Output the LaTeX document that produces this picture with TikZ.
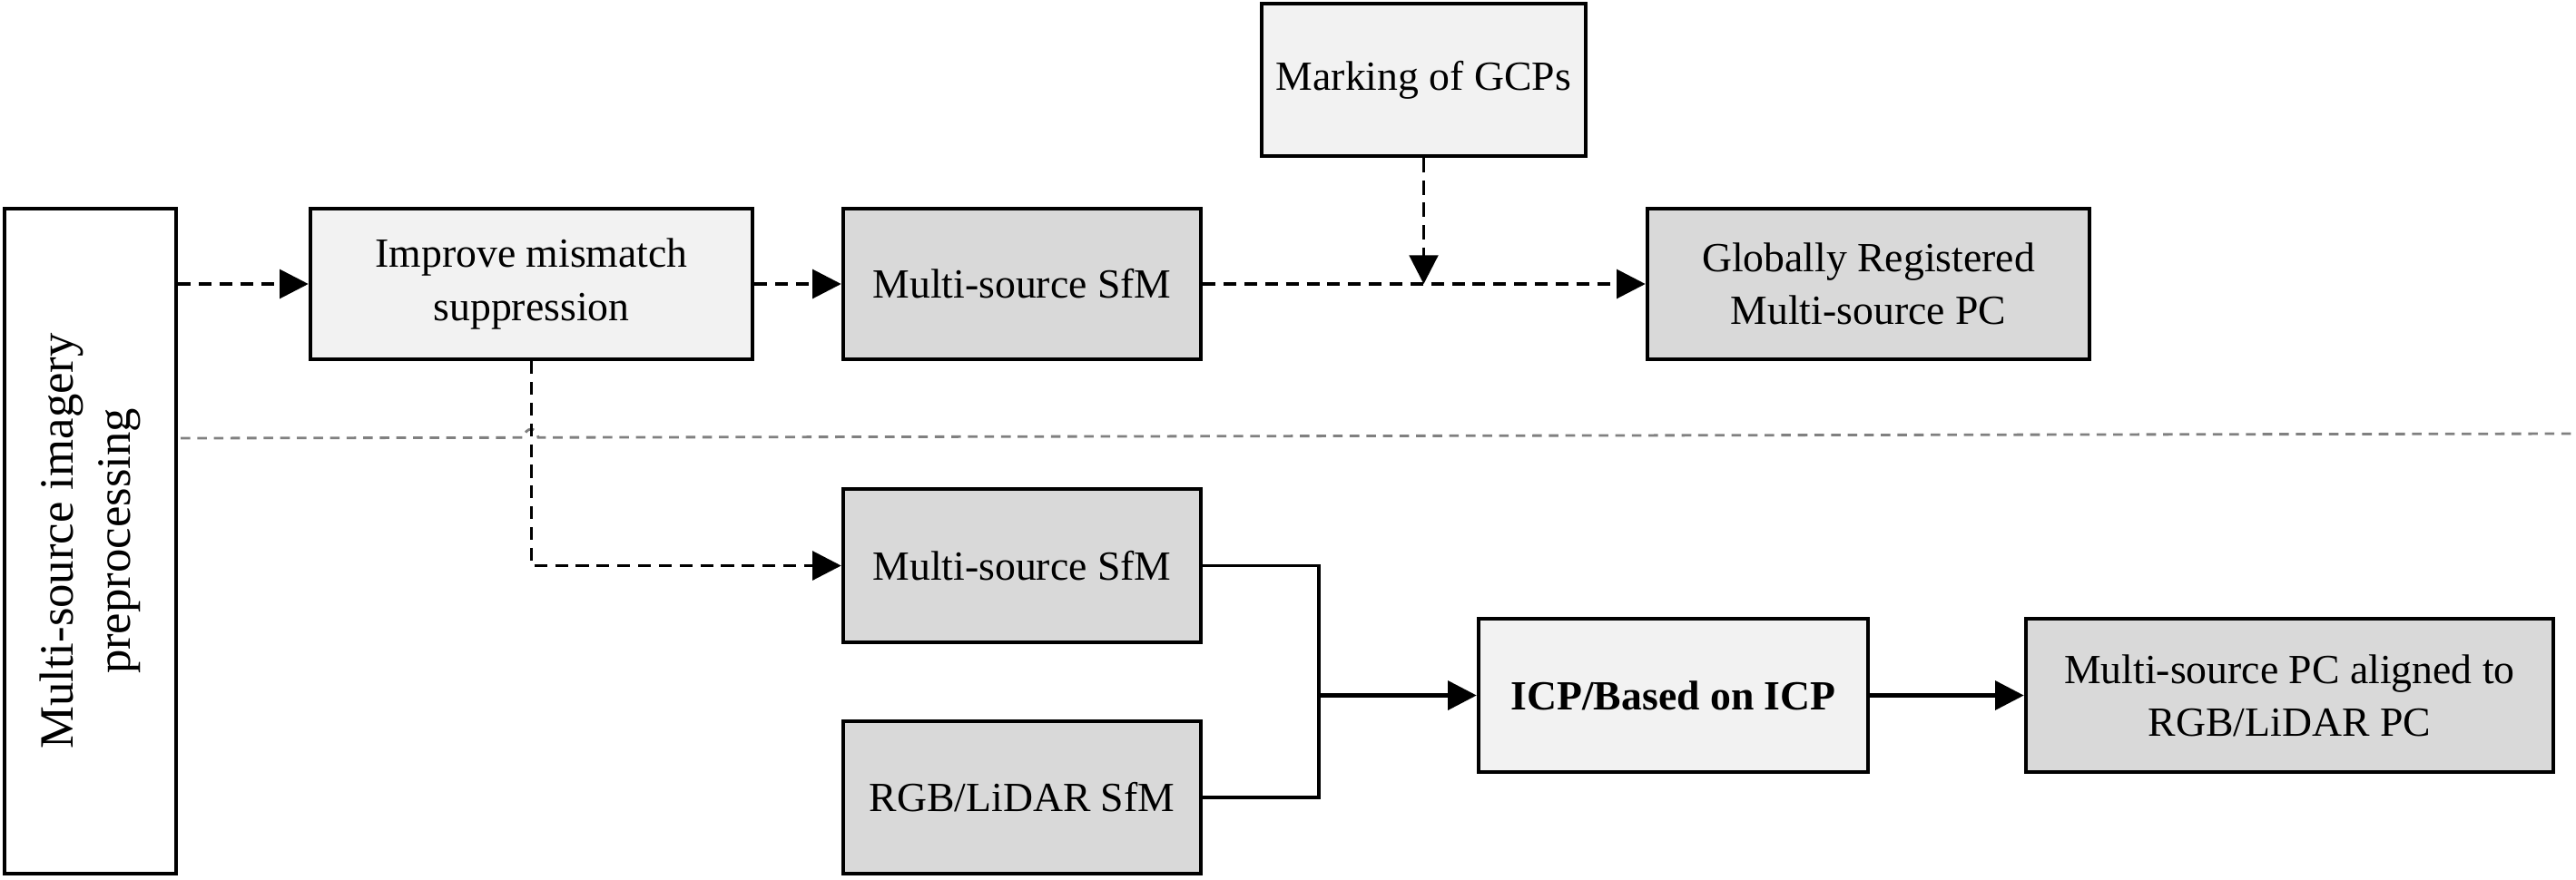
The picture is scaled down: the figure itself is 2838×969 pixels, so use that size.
\documentclass[tikz,border=0pt]{standalone}
\usepackage{fontspec}
\setmainfont{Liberation Serif}
\usetikzlibrary{arrows.meta}
\definecolor{boxlight}{HTML}{F2F2F2}
\definecolor{boxdark}{HTML}{D9D9D9}
\definecolor{sepgray}{HTML}{808080}
\begin{document}
\begin{tikzpicture}[x=0.01cm,y=-0.01cm,
  box/.style={draw=black, line width=1.2pt, align=center, inner sep=2pt,
              font=\fontsize{13}{16.5}\selectfont},
  light/.style={box, fill=boxlight},
  dark/.style={box, fill=boxdark},
  tip/.style={-{Triangle[length=9pt,width=9pt]}},
  dasharrow/.style={draw=black, line width=1.1pt, dash pattern=on 4pt off 2.5pt, tip},
  vdasharrow/.style={draw=black, line width=0.9pt, dash pattern=on 4.5pt off 2.5pt, tip},
  solidarrow/.style={draw=black, line width=1.3pt, tip},
  solidline/.style={draw=black, line width=1pt},
  sepline/.style={draw=sepgray, line width=0.8pt, dash pattern=on 3pt off 2.2pt},
  ]
\useasboundingbox (0,0) rectangle (2838,969);

% nodes
\node[draw=black, line width=1.2pt, fill=white, minimum width=1.89cm, minimum height=7.33cm] (pre) at (99.5,596.5) {};
\node[rotate=90, align=center, font=\fontsize{15}{18}\selectfont] (pretext) at (pre.center) {Multi-source imagery\\preprocessing};

\node[light, minimum width=4.87cm, minimum height=1.66cm] (imp) at (585.5,313) {Improve mismatch\\suppression};
\node[dark, minimum width=3.94cm, minimum height=1.66cm] (sfm1) at (1126,313) {Multi-source SfM};
\node[light, minimum width=3.57cm, minimum height=1.68cm] (gcp) at (1568.5,88) {Marking of GCPs};
\node[dark, minimum width=4.87cm, minimum height=1.66cm] (glob) at (2058.5,313) {Globally Registered\\Multi-source PC};

\node[dark, minimum width=3.94cm, minimum height=1.69cm] (sfm2) at (1126,623.5) {Multi-source SfM};
\node[dark, minimum width=3.94cm, minimum height=1.68cm] (rgb) at (1126,879) {RGB/LiDAR SfM};
\node[light, minimum width=4.29cm, minimum height=1.69cm, font=\fontsize{13}{16.5}\selectfont\bfseries] (icp) at (1843.5,766.5) {ICP/Based on ICP};
\node[dark, minimum width=5.81cm, minimum height=1.69cm] (ali) at (2522.5,766.5) {Multi-source PC aligned to\\RGB/LiDAR PC};

% separator line with a small hop over the vertical connector
\coordinate (sepL) at (199,483);
\coordinate (sepA) at (577,482.3);
\coordinate (sepB) at (593,482.2);
\coordinate (sepR) at (2833,478);
\draw[sepline] (sepL) -- (sepA) .. controls (579,470) and (591,470) .. (sepB) -- (sepR);

% top row connectors
\draw[dasharrow] (pre.east |- imp.west) -- (imp.west);
\draw[dasharrow] (imp.east) -- (sfm1.west);
\draw[dasharrow] (sfm1.east) -- (glob.west);
\draw[vdasharrow] (gcp.south) -- (gcp.south |- sfm1.east);

% branch down to lower row
\draw[dasharrow] (imp.south) -- (imp.south |- sfm2.west) -- (sfm2.west);

% merge into ICP
\coordinate (j) at (1453,766.5);
\draw[solidline] (sfm2.east) -| (j);
\draw[solidline] (rgb.east) -| (j);
\draw[solidarrow] (j) -- (icp.west);
\draw[solidarrow] (icp.east) -- (ali.west);
\end{tikzpicture}
\end{document}
